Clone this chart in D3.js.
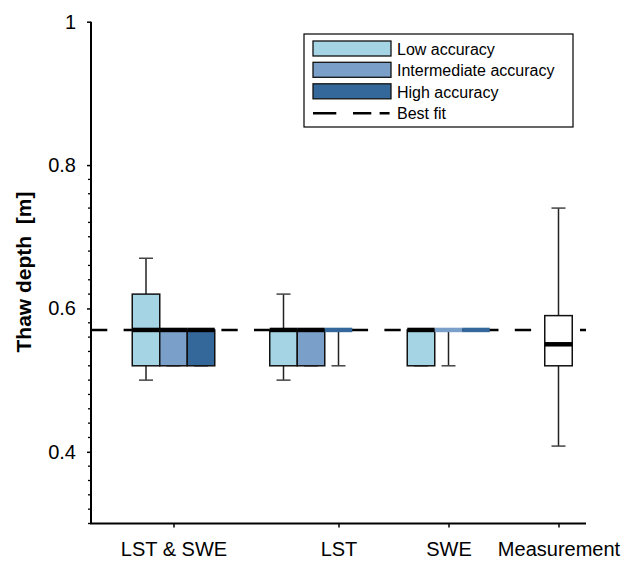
<!DOCTYPE html>
<html>
<head>
<meta charset="utf-8">
<script src="https://cdn.jsdelivr.net/npm/d3@7"></script>
<style>
  html, body { margin: 0; padding: 0; background: #fff; }
  svg { display: block; font-family: "Liberation Sans", Arial, sans-serif; }
</style>
</head>
<body>
<svg id="chart" width="630" height="565"></svg>
<script>
// Thaw depth estimates per input data set and accuracy level
const categories = ["LST & SWE", "LST", "SWE", "Measurement"];
const accuracyLevels = ["Low accuracy", "Intermediate accuracy", "High accuracy"];
const accuracyColors = ["#a5d4e4", "#7a9fc9", "#34689b"];

// box statistics: [min, q1, median, q3, max]
const lstSweStats = [
  [0.50, 0.52, 0.57, 0.62, 0.67],
  [0.52, 0.52, 0.57, 0.57, 0.57],
  [0.52, 0.52, 0.57, 0.57, 0.57]
];
const lstStats = [
  [0.50, 0.52, 0.57, 0.57, 0.62],
  [0.52, 0.52, 0.57, 0.57, 0.57],
  [0.52, 0.57, 0.57, 0.57, 0.57]
];
const sweStats = [
  [0.52, 0.52, 0.57, 0.57, 0.57],
  [0.52, 0.57, 0.57, 0.57, 0.57],
  [0.57, 0.57, 0.57, 0.57, 0.57]
];
const measurementStats = [0.408, 0.52, 0.55, 0.59, 0.74];
const bestFit = 0.57;

const yTicks = [0.4, 0.6, 0.8, 1];
const yTickLabels = ["0.4", "0.6", "0.8", "1"];

// slot layout along the x axis (one unit = one box width)
const groupSlots = [[-1, 0, 1], [4, 5, 6], [9, 10, 11], [14]];
const categoryTickSlots = [0, 6, 10, 14];

const svg = d3.select("#chart");

const x = d3.scaleLinear().domain([-3, 15]).range([91, 586]);
const y = d3.scaleLinear().domain([0.3, 1]).range([523.5, 21.7]);
const boxW = x(1) - x(0);
const capW = 14;

// assemble the boxes
const boxes = [];
[lstSweStats, lstStats, sweStats].forEach((grp, gi) => {
  grp.forEach((s, li) => boxes.push({ slot: groupSlots[gi][li], stats: s, color: accuracyColors[li] }));
});
boxes.push({ slot: groupSlots[3][0], stats: measurementStats, color: "#ffffff" });

// best-fit reference line
svg.append("line")
  .attr("x1", x(-3)).attr("x2", x(15))
  .attr("y1", y(bestFit)).attr("y2", y(bestFit))
  .attr("stroke", "#000").attr("stroke-width", 2.6)
  .attr("stroke-dasharray", "16.3,16.3");

const g = svg.append("g");

boxes.forEach(b => {
  const [mn, q1, md, q3, mx] = b.stats;
  const cx = x(b.slot);
  const wg = g.append("g").attr("stroke", "#222").attr("stroke-width", 1.5);
  // whiskers
  if (mx > q3) wg.append("line").attr("x1", cx).attr("x2", cx).attr("y1", y(q3)).attr("y2", y(mx));
  if (mn < q1) wg.append("line").attr("x1", cx).attr("x2", cx).attr("y1", y(q1)).attr("y2", y(mn));
  if (!(mn === q1 && q1 === q3 && q3 === mx)) {
    wg.append("line").attr("x1", cx - capW / 2).attr("x2", cx + capW / 2).attr("y1", y(mx)).attr("y2", y(mx)).attr("stroke", "#444");
    wg.append("line").attr("x1", cx - capW / 2).attr("x2", cx + capW / 2).attr("y1", y(mn)).attr("y2", y(mn)).attr("stroke", "#444");
  }
  if (q3 > q1) {
    g.append("rect")
      .attr("x", cx - boxW / 2).attr("width", boxW)
      .attr("y", y(q3)).attr("height", y(q1) - y(q3))
      .attr("fill", b.color).attr("stroke", "#111").attr("stroke-width", 1.5);
    g.append("line")
      .attr("x1", cx - boxW / 2).attr("x2", cx + boxW / 2)
      .attr("y1", y(md)).attr("y2", y(md))
      .attr("stroke", "#000").attr("stroke-width", 4.5);
  } else {
    // collapsed box: drawn as a thick line in the box colour
    g.append("line")
      .attr("x1", cx - boxW / 2).attr("x2", cx + boxW / 2)
      .attr("y1", y(md)).attr("y2", y(md))
      .attr("stroke", b.color).attr("stroke-width", 4.5);
  }
});

// y axis
const yAxis = svg.append("g").attr("transform", `translate(${x(-3)},0)`);
yAxis.call(d3.axisLeft(y).tickValues(yTicks).tickFormat((d, i) => yTickLabels[i]).tickSize(4).tickPadding(11))
  .call(a => a.select(".domain").remove());
yAxis.selectAll(".tick line").attr("stroke", "#000").attr("stroke-width", 1.5);
yAxis.selectAll(".tick text").attr("font-size", 20).attr("fill", "#000")
  .attr("font-family", "'Liberation Sans', Arial, sans-serif");
// minor ticks
const minorTicks = d3.range(15, 41).map(k => k / 50).filter(v => !yTicks.some(t => Math.abs(t - v) < 1e-9));
yAxis.selectAll(".minor").data(minorTicks).join("line")
  .attr("class", "minor")
  .attr("x1", -3).attr("x2", 0)
  .attr("y1", d => y(d)).attr("y2", d => y(d))
  .attr("stroke", "#000").attr("stroke-width", 1.3);
yAxis.append("line").attr("x1", 0).attr("x2", 0).attr("y1", y(1)).attr("y2", y(0.3))
  .attr("stroke", "#000").attr("stroke-width", 2);

// x axis
const xAxis = svg.append("g").attr("transform", `translate(0,${y(0.3)})`);
xAxis.call(d3.axisBottom(x).tickValues(categoryTickSlots).tickFormat((d, i) => categories[i]).tickSize(4).tickPadding(14))
  .call(a => a.select(".domain").remove());
xAxis.selectAll(".tick line").attr("stroke", "#000").attr("stroke-width", 1.5);
xAxis.selectAll(".tick text").attr("font-size", 20).attr("fill", "#000")
  .attr("font-family", "'Liberation Sans', Arial, sans-serif");
xAxis.append("line").attr("x1", x(-3) - 1).attr("x2", x(15)).attr("y1", 0).attr("y2", 0)
  .attr("stroke", "#000").attr("stroke-width", 2);

// y axis title
svg.append("text")
  .attr("transform", `translate(31,272) rotate(-90)`)
  .attr("text-anchor", "middle")
  .attr("font-size", 21).attr("font-weight", "bold")
  .style("white-space", "pre")
  .text("Thaw depth  [m]");

// legend
const legend = svg.append("g");
legend.append("rect")
  .attr("x", 304).attr("y", 34).attr("width", 269).attr("height", 93)
  .attr("fill", "#fff").attr("stroke", "#000").attr("stroke-width", 1.2);
const rowY = [48.5, 69.8, 91.3, 113.3];
accuracyLevels.forEach((lab, i) => {
  legend.append("rect")
    .attr("x", 313).attr("y", rowY[i] - 7.5).attr("width", 78).attr("height", 15)
    .attr("fill", accuracyColors[i]).attr("stroke", "#111").attr("stroke-width", 1.3);
  legend.append("text").attr("x", 397).attr("y", rowY[i] + 6.5)
    .attr("font-size", 16).text(lab);
});
legend.append("line")
  .attr("x1", 313).attr("x2", 391).attr("y1", rowY[3]).attr("y2", rowY[3])
  .attr("stroke", "#000").attr("stroke-width", 2.6)
  .attr("stroke-dasharray", "23.3,16.7,18.3,8.3,10");
legend.append("text").attr("x", 397).attr("y", rowY[3] + 6)
  .attr("font-size", 16).text("Best fit");
</script>
</body>
</html>
